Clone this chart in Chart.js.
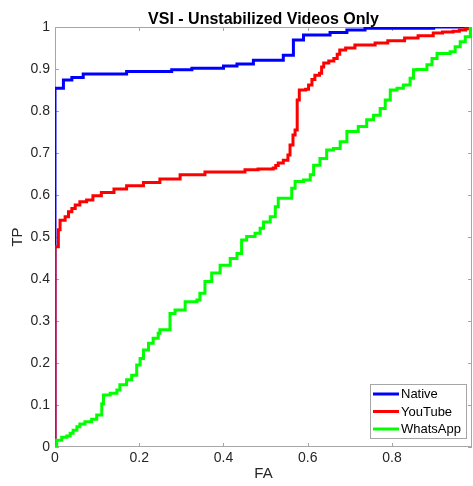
<!DOCTYPE html>
<html>
<head>
<meta charset="utf-8">
<script src="https://cdn.jsdelivr.net/npm/chart.js@4.4.1/dist/chart.umd.min.js"></script>
<style>
  html, body { margin: 0; padding: 0; background: #ffffff; }
  #wrap { width: 473px; height: 486px; }
</style>
</head>
<body>
<div id="wrap"><canvas id="roc" width="473" height="486"></canvas></div>
<script>
// ROC curves: false alarm rate (FA) vs. true positive rate (TP)
const chartTitle = 'VSI - Unstabilized Videos Only';
const seriesNames = ['Native', 'YouTube', 'WhatsApp'];
const seriesColors = ['#0000ff', '#ff0000', '#00ff00'];

const nativeFA = [0, 0, 0.020, 0.040, 0.067, 0.170, 0.277, 0.325, 0.400, 0.432, 0.471, 0.542, 0.566, 0.590, 0.653, 0.693, 0.736, 0.899, 0.99];
const nativeTP = [0, 0.854, 0.874, 0.880, 0.888, 0.894, 0.898, 0.902, 0.907, 0.912, 0.921, 0.933, 0.969, 0.981, 0.987, 0.993, 0.997, 1.0, 1.0];

const youtubeFA = [0, 0, 0.008, 0.012, 0.024, 0.032, 0.040, 0.048, 0.059, 0.075, 0.090, 0.110, 0.140, 0.170, 0.210, 0.249, 0.297, 0.356, 0.451, 0.482, 0.518, 0.524, 0.530, 0.542, 0.553, 0.558, 0.565, 0.570, 0.575, 0.580, 0.595, 0.602, 0.610, 0.617, 0.628, 0.633, 0.638, 0.650, 0.662, 0.670, 0.676, 0.690, 0.712, 0.760, 0.790, 0.830, 0.862, 0.898, 0.920, 0.945, 0.960, 0.975, 0.99];
const youtubeTP = [0, 0.477, 0.517, 0.540, 0.548, 0.560, 0.568, 0.576, 0.584, 0.588, 0.598, 0.606, 0.614, 0.622, 0.630, 0.638, 0.648, 0.655, 0.660, 0.662, 0.664, 0.670, 0.676, 0.683, 0.695, 0.719, 0.743, 0.755, 0.826, 0.850, 0.852, 0.862, 0.875, 0.885, 0.890, 0.905, 0.914, 0.919, 0.925, 0.935, 0.945, 0.950, 0.957, 0.962, 0.967, 0.974, 0.979, 0.986, 0.988, 0.990, 0.993, 0.996, 1.0];

const whatsappFA = [0, 0.004, 0.016, 0.028, 0.036, 0.043, 0.052, 0.059, 0.071, 0.087, 0.099, 0.111, 0.111, 0.115, 0.131, 0.147, 0.154, 0.170, 0.182, 0.194, 0.202, 0.210, 0.222, 0.233, 0.245, 0.249, 0.273, 0.285, 0.309, 0.337, 0.344, 0.356, 0.372, 0.392, 0.416, 0.432, 0.443, 0.455, 0.475, 0.487, 0.495, 0.511, 0.523, 0.530, 0.554, 0.562, 0.570, 0.590, 0.606, 0.614, 0.629, 0.645, 0.661, 0.677, 0.693, 0.720, 0.740, 0.756, 0.772, 0.784, 0.796, 0.812, 0.827, 0.843, 0.851, 0.859, 0.883, 0.895, 0.907, 0.938, 0.950, 0.962, 0.974, 0.986, 0.99];
const whatsappTP = [0, 0.016, 0.023, 0.026, 0.033, 0.040, 0.048, 0.055, 0.060, 0.066, 0.076, 0.078, 0.103, 0.124, 0.128, 0.136, 0.148, 0.160, 0.171, 0.195, 0.211, 0.231, 0.247, 0.259, 0.271, 0.279, 0.318, 0.326, 0.346, 0.350, 0.366, 0.394, 0.414, 0.433, 0.449, 0.461, 0.493, 0.501, 0.509, 0.521, 0.536, 0.548, 0.572, 0.592, 0.592, 0.616, 0.632, 0.636, 0.648, 0.671, 0.687, 0.707, 0.711, 0.727, 0.751, 0.763, 0.779, 0.790, 0.806, 0.826, 0.850, 0.854, 0.862, 0.878, 0.898, 0.899, 0.910, 0.925, 0.937, 0.941, 0.953, 0.965, 0.977, 0.997, 1.0];

const xTickValues = [0, 0.2, 0.4, 0.6, 0.8];
const xTickLabels = ['0', '0.2', '0.4', '0.6', '0.8'];
const yTickValues = [0, 0.1, 0.2, 0.3, 0.4, 0.5, 0.6, 0.7, 0.8, 0.9, 1];
const yTickLabels = ['0', '0.1', '0.2', '0.3', '0.4', '0.5', '0.6', '0.7', '0.8', '0.9', '1'];
const xAxisTitle = 'FA';
const yAxisTitle = 'TP';

const FONT = '"Liberation Sans", Arial, Helvetica, sans-serif';
const TEXT = '#262626';
const FRAME = '#a6a6a6';

const toPoints = (xs, ys) => xs.map((x, i) => ({ x: x, y: ys[i] }));

function lineSet(idx, xs, ys, order) {
  return {
    label: seriesNames[idx],
    data: toPoints(xs, ys),
    borderColor: seriesColors[idx],
    backgroundColor: seriesColors[idx],
    borderWidth: 3,
    pointRadius: 0,
    showLine: true,
    stepped: true,
    fill: false,
    order: order
  };
}

// Box around the axes with short inward tick marks on every side
const framePlugin = {
  id: 'frame',
  beforeDatasetsDraw(chart) {
    const { ctx, chartArea: a, scales } = chart;
    ctx.save();
    ctx.strokeStyle = FRAME;
    ctx.lineWidth = 1;
    ctx.strokeRect(a.left + 0.5, a.top + 0.5, a.right - a.left - 1, a.bottom - a.top - 1);
    const len = 4;
    ctx.beginPath();
    xTickValues.forEach(v => {
      const px = Math.round(scales.x.getPixelForValue(v)) + 0.5;
      ctx.moveTo(px, a.bottom); ctx.lineTo(px, a.bottom - len);
      ctx.moveTo(px, a.top); ctx.lineTo(px, a.top + len);
    });
    yTickValues.forEach(v => {
      const py = Math.round(scales.y.getPixelForValue(v)) + 0.5;
      ctx.moveTo(a.left, py); ctx.lineTo(a.left + len, py);
      ctx.moveTo(a.right, py); ctx.lineTo(a.right - len, py);
    });
    ctx.stroke();
    ctx.restore();
  }
};

// Title centred over the axes, legend box in the lower right corner
const decorPlugin = {
  id: 'decor',
  afterDraw(chart) {
    const { ctx, chartArea: a } = chart;
    ctx.save();
    ctx.fillStyle = '#000000';
    ctx.font = 'bold 16px ' + FONT;
    ctx.textAlign = 'center';
    ctx.textBaseline = 'alphabetic';
    ctx.fillText(chartTitle, (a.left + a.right) / 2, 24);

    const sets = chart.data.datasets;
    const rowH = 17.5;
    const boxW = 97, boxH = 55;
    const bx = a.right - 5 - boxW;
    const by = a.bottom - 8 - boxH;
    ctx.fillStyle = '#ffffff';
    ctx.fillRect(bx, by, boxW, boxH);
    ctx.strokeStyle = FRAME;
    ctx.lineWidth = 1;
    ctx.strokeRect(bx + 0.5, by + 0.5, boxW - 1, boxH - 1);
    ctx.font = '13px ' + FONT;
    ctx.textAlign = 'left';
    ctx.textBaseline = 'middle';
    sets.forEach((ds, i) => {
      const cy = by + 10 + i * rowH;
      ctx.strokeStyle = ds.borderColor;
      ctx.lineWidth = 3;
      ctx.beginPath();
      ctx.moveTo(bx + 3, cy);
      ctx.lineTo(bx + 29, cy);
      ctx.stroke();
      ctx.fillStyle = '#000000';
      ctx.fillText(ds.label, bx + 31, cy + 0.5);
    });
    ctx.restore();
  }
};

new Chart(document.getElementById('roc'), {
  type: 'scatter',
  data: {
    datasets: [
      lineSet(0, nativeFA, nativeTP, 3),
      lineSet(1, youtubeFA, youtubeTP, 2),
      lineSet(2, whatsappFA, whatsappTP, 1)
    ]
  },
  options: {
    responsive: false,
    animation: false,
    events: [],
    layout: { padding: { top: 27, right: 1, left: 0, bottom: 0 } },
    plugins: {
      legend: { display: false },
      title: { display: false },
      tooltip: { enabled: false }
    },
    scales: {
      x: {
        type: 'linear',
        min: 0,
        max: 0.99,
        afterBuildTicks(scale) { scale.ticks = xTickValues.map(v => ({ value: v })); },
        afterFit(scale) { scale.height = 39; },
        grid: { display: false, drawTicks: false },
        border: { display: false },
        ticks: {
          padding: 3,
          color: TEXT,
          font: { family: FONT, size: 14 },
          maxRotation: 0,
          callback: (v) => { const i = xTickValues.findIndex(t => Math.abs(t - v) < 1e-9); return i >= 0 ? xTickLabels[i] : ''; }
        },
        title: {
          display: true,
          text: xAxisTitle,
          color: TEXT,
          font: { family: FONT, size: 15 },
          padding: { top: 0, bottom: 3 }
        }
      },
      y: {
        type: 'linear',
        min: 0,
        max: 1,
        afterBuildTicks(scale) { scale.ticks = yTickValues.map(v => ({ value: v })); },
        afterFit(scale) { scale.width = 55; },
        grid: { display: false, drawTicks: false },
        border: { display: false },
        ticks: {
          padding: 5,
          color: TEXT,
          font: { family: FONT, size: 14 },
          callback: (v) => { const i = yTickValues.findIndex(t => Math.abs(t - v) < 1e-9); return i >= 0 ? yTickLabels[i] : ''; }
        },
        title: {
          display: true,
          text: yAxisTitle,
          color: TEXT,
          font: { family: FONT, size: 15 },
          padding: { top: 9, bottom: 0 }
        }
      }
    }
  },
  plugins: [framePlugin, decorPlugin]
});
</script>
</body>
</html>
